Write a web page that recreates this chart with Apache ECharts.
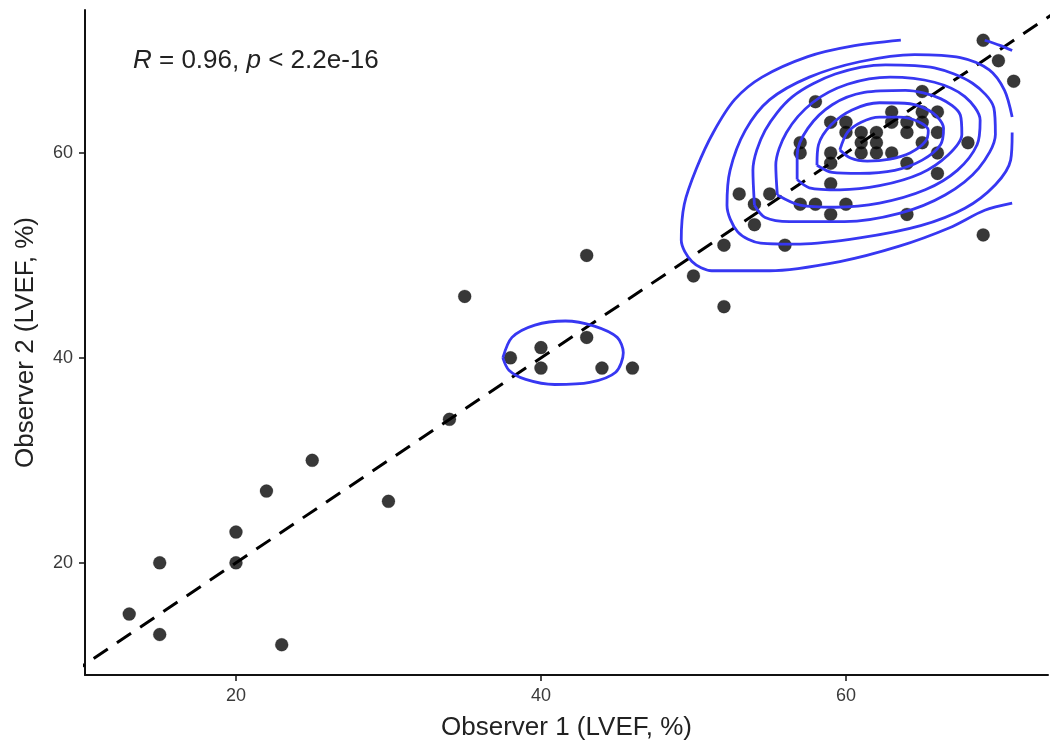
<!DOCTYPE html>
<html>
<head>
<meta charset="utf-8">
<title>LVEF agreement</title>
<script src="https://cdn.jsdelivr.net/npm/echarts@6/dist/echarts.min.js"></script>
<style>
  html, body { margin: 0; padding: 0; background: #fff; }
  #chart { width: 1050px; height: 747px; }
</style>
</head>
<body>
<div id="chart"></div>
<script>
// Observer readings (LVEF, %)
const observer1 = [13, 15, 15, 20, 20, 22, 23, 25, 30, 34, 35, 43, 38, 40, 40, 43, 44, 46,
  50, 52, 52, 53, 55, 54, 54, 56, 57, 58, 59, 60, 59, 59, 58, 59, 60, 60, 57, 57, 59,
  61, 61, 61, 62, 62, 62, 63, 63, 63, 64, 64, 64, 65, 65, 65, 65, 66, 66, 66, 66,
  69, 70, 71, 68, 69, 64];
const observer2 = [15, 20, 13, 23, 20, 27, 12, 30, 26, 34, 46, 50, 40, 41, 39, 42, 39, 39,
  48, 45, 51, 56, 56, 55, 53, 51, 55, 55, 54, 55, 57, 59, 65, 63, 63, 62, 61, 60, 60,
  62, 61, 60, 62, 61, 60, 64, 63, 60, 63, 62, 59, 66, 64, 63, 61, 64, 62, 60, 58,
  71, 69, 67, 61, 52, 54];

const tickValues = [20, 40, 60];
const annotation = { r: '0.96', p: '2.2e-16' };

// 2d density contour paths (x = observer 1, y = observer 2)
const densityLevel1 = [[63.6, 71.0], [60.3, 70.4], [57.5, 69.4], [54.5, 67.4], [52.7, 65.2],
  [51.3, 62.0], [50.2, 58.5], [49.4, 55.0], [49.2, 51.5], [49.9, 49.4], [51.2, 48.5],
  [55.0, 48.5], [59.6, 49.4], [63.5, 50.9], [66.8, 52.7], [69.1, 54.4], [70.9, 55.1]];
const densityLevel1Corner = [[69.1, 71.0], [70.1, 70.5], [70.9, 70.0]];
const densityLevel1Small = [[37.5, 40.0], [38.1, 42.0], [39.6, 43.2], [41.6, 43.6], [43.5, 43.1],
  [45.0, 42.0], [45.4, 40.5], [44.9, 38.6], [43.2, 37.6], [40.9, 37.4], [39.0, 37.9],
  [37.9, 38.8], [37.5, 40.0]];
const densityLevel2 = [[70.9, 62.0], [70.8, 59.3], [69.8, 56.9], [67.8, 54.6], [64.9, 52.9],
  [60.9, 51.7], [57.0, 51.1], [54.4, 51.2], [52.9, 52.3], [52.2, 54.9], [52.4, 58.3],
  [53.4, 62.2], [55.0, 65.2], [57.6, 67.4], [60.9, 68.9], [64.5, 69.6], [67.5, 69.3],
  [69.4, 68.1], [70.4, 66.1], [70.9, 63.5]];
const densityLevel3 = [[54.0, 54.9], [53.9, 58.3], [54.7, 62.2], [56.5, 65.5], [59.3, 67.7],
  [62.6, 68.6], [65.8, 68.3], [68.3, 66.8], [69.7, 64.4], [69.8, 61.8], [68.7, 58.5],
  [66.5, 55.9], [63.5, 54.1], [59.9, 53.3], [56.3, 53.3], [54.7, 53.7], [54.0, 54.9]];
const densityLevel4 = [[55.5, 55.9], [55.4, 58.8], [56.1, 62.0], [57.8, 64.9], [60.1, 66.7],
  [62.9, 67.4], [65.8, 66.9], [67.8, 65.5], [68.8, 63.2], [68.6, 60.8], [67.3, 58.3],
  [65.2, 56.4], [62.2, 55.1], [59.3, 54.7], [57.0, 54.9], [55.5, 55.9]];
const densityLevel5 = [[56.8, 57.4], [56.8, 59.8], [57.5, 62.4], [59.1, 64.7], [61.2, 65.9],
  [63.9, 66.1], [66.2, 65.3], [67.5, 63.7], [67.6, 61.8], [66.7, 59.8], [64.9, 58.0],
  [62.2, 56.8], [59.6, 56.4], [57.6, 56.6], [56.8, 57.4]];
const densityLevel6 = [[58.1, 58.8], [58.2, 60.8], [59.0, 62.7], [60.4, 64.2], [62.2, 64.9],
  [64.2, 64.8], [65.7, 63.9], [66.4, 62.4], [66.2, 60.8], [65.0, 59.3], [63.2, 58.3],
  [60.9, 58.0], [59.1, 58.1], [58.1, 58.8]];
const densityLevel7 = [[59.6, 60.3], [60.1, 62.0], [61.0, 63.0], [62.2, 63.5], [63.5, 63.5],
  [64.7, 63.1], [65.4, 62.2], [65.2, 61.1], [64.2, 60.0], [62.9, 59.4], [61.4, 59.2],
  [60.3, 59.5], [59.6, 60.3]];

const identityEnds = [0, 100];

const contours = [densityLevel1, densityLevel1Corner, densityLevel1Small, densityLevel2,
  densityLevel3, densityLevel4, densityLevel5, densityLevel6, densityLevel7];

const FONT = '"Liberation Sans", Arial, sans-serif';
const BLUE = '#3737f2';

const axisCommon = {
  type: 'value',
  splitLine: { show: false },
  axisLine: { show: true, onZero: false, lineStyle: { color: '#111', width: 2 } },
  axisTick: { show: true, customValues: tickValues, length: 6, lineStyle: { color: '#111', width: 1.5 } },
  axisLabel: { customValues: tickValues, color: '#3a3a3a', fontSize: 18, fontFamily: FONT, margin: 12 },
  nameLocation: 'middle',
  nameTextStyle: { color: '#222', fontSize: 26, fontFamily: FONT }
};

const chart = echarts.init(document.getElementById('chart'));

chart.setOption({
  animation: false,
  backgroundColor: '#fff',
  grid: { left: 85, right: 2, top: 10, bottom: 72 },
  xAxis: {
    ...axisCommon,
    min: 10.1,
    max: 73.25,
    name: 'Observer 1 (LVEF, %)',
    nameGap: 40
  },
  yAxis: {
    ...axisCommon,
    min: 9.05,
    max: 73.95,
    name: 'Observer 2 (LVEF, %)',
    nameGap: 46
  },
  graphic: [{
    type: 'text',
    left: 133,
    top: 48,
    style: {
      text: '{i|R} = ' + annotation.r + ', {i|p} < ' + annotation.p,
      fill: '#222',
      font: '26px ' + FONT,
      rich: {
        i: { fontStyle: 'italic', fontSize: 26, fontFamily: FONT, fill: '#222' }
      }
    }
  }],
  series: [
    {
      type: 'line',
      data: identityEnds.map(v => [v, v]),
      symbol: 'none',
      clip: true,
      lineStyle: { color: '#000', width: 3, type: [17, 11] },
      z: 2
    },
    {
      type: 'scatter',
      data: observer1.map((x, i) => [x, observer2[i]]),
      symbolSize: 13,
      itemStyle: { color: 'rgba(0,0,0,0.78)', opacity: 1, borderColor: 'rgba(0,0,0,0.4)', borderWidth: 0.5 },
      z: 3
    },
    ...contours.map(path => ({
      type: 'line',
      data: path,
      symbol: 'none',
      smooth: 0.3,
      clip: true,
      lineStyle: { color: BLUE, width: 2.8 },
      z: 4
    }))
  ]
});
</script>
</body>
</html>
